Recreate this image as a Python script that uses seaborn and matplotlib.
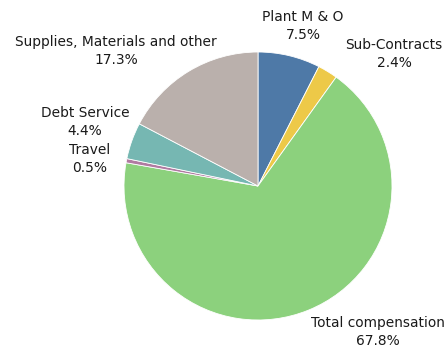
import matplotlib
matplotlib.use("Agg")
import matplotlib.pyplot as plt
import seaborn as sns

sns.set_theme(style="white")
plt.rcParams['font.family'] = ['DejaVu Sans']

categories = ["Plant M & O", "Sub-Contracts", "Total compensation", "Travel",
              "Debt Service", "Supplies, Materials and other"]
values = [7.5, 2.4, 67.8, 0.5, 4.4, 17.3]
colors = ["#4e79a7", "#edc948", "#8cd17d", "#b07aa1", "#76b7b2", "#bab0ac"]
# label anchor positions (data coords, pie radius = 1)
label_pos = [(0.336, 1.194), (1.015, 0.985), (0.896, -1.09), (-1.254, 0.201),
             (-1.291, 0.478), (-1.060, 1.006)]

fig = plt.figure(figsize=(4.46, 3.5), dpi=100)
ax = fig.add_axes([124/446, 30/350, 268/446, 268/350])
ax.pie(values, colors=colors, startangle=90, counterclock=False,
       wedgeprops=dict(edgecolor="white", linewidth=0.6), radius=1)
ax.set_xlim(-1, 1)
ax.set_ylim(-1, 1)
ax.set_aspect("equal")
ax.axis("off")

for cat, val, (x, y) in zip(categories, values, label_pos):
    ax.text(x, y, f"{cat}\n{val:.1f}%", ha="center", va="center",
            fontsize=9.9, color="#1a1a1a", linespacing=1.35, clip_on=False)

fig.savefig("out.png", dpi=100)
